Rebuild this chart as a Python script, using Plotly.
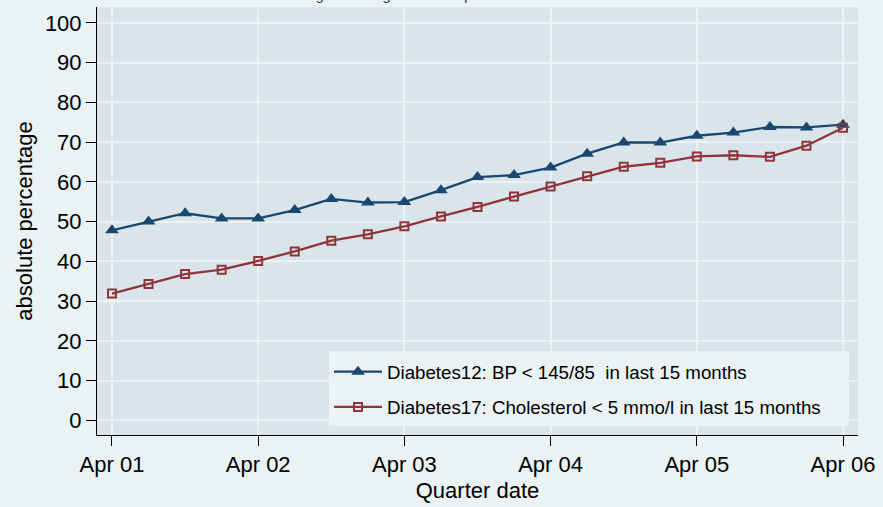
import plotly.graph_objects as go

quarters = ["Apr 01", "Jul 01", "Oct 01", "Jan 02", "Apr 02", "Jul 02", "Oct 02", "Jan 03",
            "Apr 03", "Jul 03", "Oct 03", "Jan 04", "Apr 04", "Jul 04", "Oct 04", "Jan 05",
            "Apr 05", "Jul 05", "Oct 05", "Jan 06", "Apr 06"]
quarter_index = list(range(len(quarters)))
bp_values = [47.8, 50.0, 52.1, 50.8, 50.8, 52.9, 55.7, 54.8, 54.9, 57.9, 61.2, 61.7, 63.6,
             67.1, 69.9, 69.9, 71.6, 72.4, 73.8, 73.7, 74.4]
chol_values = [31.9, 34.3, 36.8, 37.9, 40.1, 42.5, 45.2, 46.8, 48.8, 51.3, 53.7, 56.3, 58.8,
               61.4, 63.8, 64.8, 66.4, 66.7, 66.3, 69.1, 73.6]
x_tickvals = [0, 4, 8, 12, 16, 20]
x_ticktext = ["Apr 01", "Apr 02", "Apr 03", "Apr 04", "Apr 05", "Apr 06"]
y_tickvals = [0, 10, 20, 30, 40, 50, 60, 70, 80, 90, 100]

NAVY = "#1a476f"
MAROON = "#90353b"
OUTER = "#eaf2f3"
INNER = "#dae5eb"
FONT = "Liberation Sans, Arial, sans-serif"

W, H = 883, 507
ML, MR, MT, MB = 97, 25, 7, 72
PW = W - ML - MR
PH = H - MT - MB


def px_x(p):
    return (p - ML) / PW


def px_y(p):
    return (H - MB - p) / PH


fig = go.Figure()
fig.add_trace(go.Scatter(
    x=quarter_index, y=bp_values, mode="lines+markers",
    name="Diabetes12: BP < 145/85\u00a0 in last 15 months",
    line=dict(color=NAVY, width=2.3),
    marker=dict(symbol="triangle-up", size=12, color=NAVY),
    legendgroup="a",
))
fig.add_trace(go.Scatter(
    x=quarter_index, y=chol_values, mode="lines+markers",
    name="Diabetes17: Cholesterol < 5 mmo/l in last 15 months",
    line=dict(color=MAROON, width=2.3),
    marker=dict(symbol="square-open", size=8, color=MAROON, line=dict(width=2, color=MAROON)),
    legendgroup="b",
))

# legend background box
fig.add_shape(type="rect", xref="paper", yref="paper",
              x0=px_x(329), x1=px_x(849), y0=px_y(426), y1=px_y(351),
              fillcolor=OUTER, line=dict(width=0), layer="above")

fig.update_layout(
    width=W, height=H,
    margin=dict(l=ML, r=MR, t=MT, b=MB),
    paper_bgcolor=OUTER, plot_bgcolor=INNER,
    font=dict(family=FONT, color="black", size=22),
    showlegend=True,
    legend=dict(
        x=px_x(329), y=px_y(426), xanchor="left", yanchor="bottom",
        bgcolor="rgba(0,0,0,0)", borderwidth=0,
        font=dict(size=18.7, family=FONT, color="black"),
        traceorder="grouped", tracegroupgap=8, itemwidth=48,
    ),
    xaxis=dict(
        range=[-0.41, 20.41], tickvals=x_tickvals, ticktext=x_ticktext,
        showgrid=True, gridcolor=OUTER, gridwidth=1.5,
        showline=True, linecolor="black", linewidth=1,
        ticks="outside", ticklen=10, tickcolor="black", tickwidth=1,
        tickfont=dict(size=22), zeroline=False,
        title=dict(text="Quarter date", font=dict(size=22), standoff=6),
    ),
    yaxis=dict(
        range=[-3.7, 104], tickvals=y_tickvals,
        showgrid=True, gridcolor=OUTER, gridwidth=1.5,
        showline=True, linecolor="black", linewidth=1,
        ticks="outside", ticklen=10, tickcolor="black", tickwidth=1,
        tickfont=dict(size=22), zeroline=False,
        title=dict(text="absolute percentage", font=dict(size=22), standoff=6),
    ),
)

fig.add_annotation(
    text="Tracking data on goals of the practice",
    xref="paper", yref="paper", x=px_x(265), y=1,
    xanchor="left", yanchor="bottom", yshift=2, showarrow=False,
    font=dict(size=15, family=FONT, color=NAVY),
)

fig.write_html("out.html", config={"displayModeBar": False},
               post_script="document.body.style.margin='0px';")
